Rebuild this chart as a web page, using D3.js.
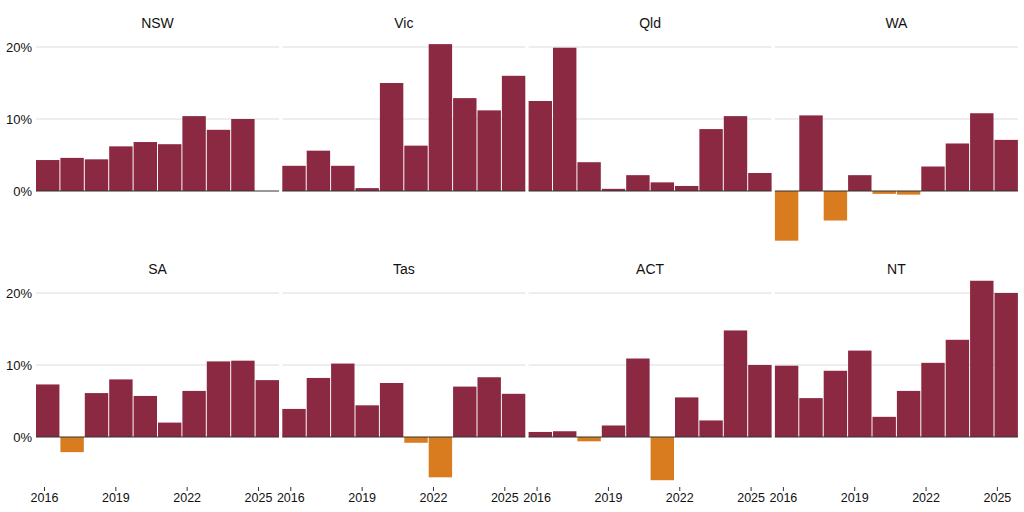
<!DOCTYPE html><html><head><meta charset="utf-8"><script src="https://cdn.jsdelivr.net/npm/d3@7"></script>
<style>body{margin:0;background:#fff}text{font-family:"Liberation Sans",Arial,sans-serif}</style></head><body><svg id="c" width="1024" height="512"></svg><script>
const years=[2016,2017,2018,2019,2020,2021,2022,2023,2024,2025];
const states=["NSW","Vic","Qld","WA","SA","Tas","ACT","NT"];
const NSW=[4.3,4.6,4.4,6.2,6.8,6.5,10.4,8.5,10.0,null];
const Vic=[3.5,5.6,3.5,0.4,15.0,6.3,20.4,12.9,11.2,16.0];
const Qld=[12.5,19.9,4.0,0.3,2.2,1.2,0.7,8.6,10.4,2.5];
const WA=[-6.9,10.5,-4.1,2.2,-0.4,-0.5,3.4,6.6,10.8,7.1];
const SA=[7.3,-2.1,6.1,8.0,5.7,2.0,6.4,10.5,10.6,7.9];
const Tas=[3.9,8.2,10.2,4.4,7.5,-0.8,-5.6,7.0,8.3,6.0];
const ACT=[0.7,0.8,-0.6,1.6,10.9,-6.0,5.5,2.3,14.8,10.0];
const NT=[9.9,5.4,9.2,12.0,2.8,6.4,10.3,13.5,21.7,20.0];
const series=[NSW,Vic,Qld,WA,SA,Tas,ACT,NT];
const yTicks=[0,10,20];
const xTicks=[2016,2019,2022,2025];
const svg=d3.select("#c");
const pw=243,gap=3.3,x0=36;
const rows=[{zero:191,dom:[-9,22.5]},{zero:437,dom:[-7,22.5]}];
series.forEach((vals,i)=>{
 const col=i%4,row=Math.floor(i/4),R=rows[row];
 const left=x0+col*(pw+gap);
 const y=d3.scaleLinear().domain(R.dom).range([R.zero-R.dom[0]*7.2,R.zero-R.dom[1]*7.2]);
 const x=d3.scaleBand().domain(years).range([left,left+pw]).paddingInner(0.04);
 const g=svg.append("g");
 g.selectAll(".gl").data(yTicks.filter(t=>t>0)).join("line").attr("x1",left).attr("x2",left+pw)
  .attr("y1",d=>y(d)).attr("y2",d=>y(d)).attr("stroke","#dcdcdc").attr("stroke-width",1);
 g.selectAll("rect").data(years.map((yr,k)=>({yr,v:vals[k]})).filter(d=>d.v!=null)).join("rect")
  .attr("x",d=>x(d.yr)).attr("width",x.bandwidth())
  .attr("y",d=>y(Math.max(0,d.v))).attr("height",d=>Math.abs(y(d.v)-y(0)))
  .attr("fill",d=>d.v<0?"#d97b1f":"#8b2942");
 g.append("line").attr("x1",left).attr("x2",left+pw).attr("y1",y(0)).attr("y2",y(0)).attr("stroke","#333").attr("stroke-width",1);
 g.append("text").attr("x",left+pw/2).attr("y",R.zero-163).attr("text-anchor","middle").attr("font-size",14).attr("fill","#111").text(states[i]);
 if(col===0){
  g.selectAll(".yl").data(yTicks).join("text").attr("x",left-4).attr("y",d=>y(d)+5).attr("text-anchor","end")
   .attr("font-size",13).attr("fill","#111").text(d=>d+"%");
 }
 if(row===1){
  const xl=d3.scaleLinear().domain([2016,2025]).range([left+8,left+222]);
  const ax=g.append("g").attr("transform",`translate(0,${R.zero+50})`)
   .call(d3.axisBottom(xl).tickValues(xTicks).tickFormat(d3.format("d")).tickSize(4).tickSizeOuter(0));
  ax.select(".domain").remove();
  ax.selectAll("text").attr("font-size",12.5).attr("fill","#111").attr("dy","0.6em");
  ax.selectAll("line").attr("stroke","#333");
 }
});
</script></body></html>
